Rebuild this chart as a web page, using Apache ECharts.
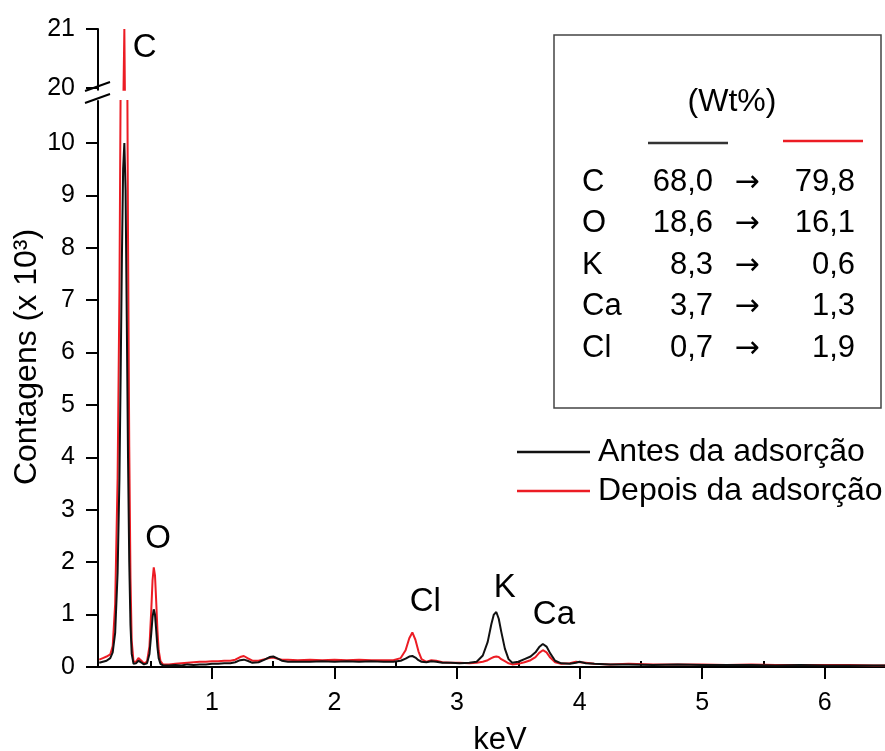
<!DOCTYPE html>
<html><head><meta charset="utf-8">
<script src="https://cdn.jsdelivr.net/npm/echarts@6/dist/echarts.min.js"></script>
<style>html,body{margin:0;padding:0;background:#fff}#c{width:885px;height:751px}</style>
</head><body><div id="c"></div>
<script>
// ---- data ----
const energy = [0.08,0.11,0.14,0.17,0.19,0.21,0.23,0.245,0.255,0.265,0.275,0.285,0.295,0.305,0.315,0.325,0.335,0.345,0.36,0.38,0.40,0.42,0.445,0.47,0.49,0.505,0.515,0.525,0.535,0.545,0.555,0.565,0.58,0.60,0.65,0.70,0.75,0.80,0.85,0.90,0.95,1.00,1.05,1.10,1.15,1.19,1.23,1.26,1.29,1.33,1.38,1.43,1.47,1.50,1.53,1.57,1.62,1.70,1.80,1.90,2.00,2.10,2.20,2.30,2.40,2.48,2.54,2.58,2.61,2.635,2.66,2.685,2.71,2.75,2.79,2.83,2.88,2.95,3.02,3.10,3.16,3.21,3.25,3.28,3.30,3.32,3.34,3.36,3.39,3.42,3.45,3.50,3.55,3.60,3.64,3.67,3.70,3.73,3.76,3.80,3.85,3.92,3.97,4.00,4.05,4.12,4.25,4.40,4.60,4.80,5.00,5.20,5.40,5.60,5.80,6.00,6.20,6.40,6.50];
const antes = [0.08,0.10,0.12,0.17,0.28,0.65,1.8,3.6,5.6,7.8,9.5,10.0,9.1,6.6,4.0,2.0,0.8,0.25,0.06,0.07,0.12,0.09,0.05,0.07,0.25,0.65,0.95,1.10,1.00,0.70,0.38,0.17,0.06,0.03,0.03,0.04,0.03,0.05,0.04,0.05,0.05,0.06,0.06,0.07,0.07,0.09,0.13,0.14,0.12,0.08,0.09,0.14,0.19,0.20,0.17,0.12,0.10,0.10,0.10,0.11,0.10,0.11,0.10,0.11,0.10,0.10,0.12,0.16,0.20,0.21,0.18,0.13,0.10,0.09,0.11,0.10,0.08,0.08,0.07,0.08,0.10,0.22,0.48,0.82,1.00,1.05,0.92,0.68,0.35,0.15,0.08,0.10,0.15,0.20,0.28,0.38,0.44,0.39,0.26,0.12,0.07,0.06,0.08,0.10,0.07,0.06,0.05,0.05,0.04,0.05,0.04,0.04,0.04,0.03,0.04,0.03,0.03,0.03,0.03];
const depois = [0.14,0.17,0.20,0.24,0.40,1.20,3.6,7.2,11.2,15.8,19.5,21.0,18.6,13.4,8.2,4.2,1.7,0.5,0.10,0.10,0.17,0.13,0.07,0.10,0.40,1.10,1.65,1.90,1.75,1.25,0.70,0.32,0.11,0.05,0.05,0.06,0.07,0.08,0.09,0.10,0.10,0.11,0.11,0.12,0.12,0.14,0.19,0.21,0.17,0.12,0.12,0.15,0.17,0.18,0.16,0.14,0.14,0.13,0.14,0.13,0.14,0.13,0.14,0.13,0.13,0.13,0.17,0.32,0.55,0.66,0.52,0.30,0.15,0.10,0.13,0.12,0.09,0.08,0.08,0.07,0.08,0.10,0.13,0.17,0.19,0.20,0.19,0.15,0.11,0.07,0.05,0.06,0.09,0.13,0.19,0.27,0.32,0.28,0.18,0.09,0.06,0.07,0.10,0.09,0.08,0.06,0.05,0.06,0.05,0.05,0.05,0.04,0.05,0.04,0.04,0.04,0.04,0.03,0.03];
const seriesNames = ['Antes da adsorção', 'Depois da adsorção'];
const xTicks = [1, 2, 3, 4, 5, 6];
const xMinorTicks = [0.5, 1.5, 2.5, 3.5, 4.5, 5.5, 6.5];
const yTicksLow = [0, 1, 2, 3, 4, 5, 6, 7, 8, 9, 10];
const yMinorLow = [0.5, 1.5, 2.5, 3.5, 4.5, 5.5, 6.5, 7.5, 8.5, 9.5, 10.5];
const yTicksHigh = [20, 21];
const yMinorHigh = [20.5];
const peakLabelsLow = [['O', 0.56, 2.45], ['Cl', 2.74, 1.25], ['K', 3.39, 1.5], ['Ca', 3.79, 0.99]];
const peakLabelsHigh = [['C', 0.45, 20.68]];
const tableTitle = '(Wt%)';
const tableElements = ['C', 'O', 'K', 'Ca', 'Cl'];
const wtAntes = ['68,0', '18,6', '8,3', '3,7', '0,7'];
const wtDepois = ['79,8', '16,1', '0,6', '1,3', '1,9'];
const yAxisTitle = 'Contagens (x 10³)';
const xAxisTitle = 'keV';

// ---- chart ----
const FONT = '"Liberation Sans", Arial, sans-serif';
const BLACK = '#111111', RED = '#ec1c24';
const pairs = v => energy.map((e, i) => [e, v[i]]);
const XMIN = 0.07, XMAX = 6.5;

const axisLine = {show: true, lineStyle: {color: '#000', width: 2}};
function mainY(grid, min, max, ticks) {
  return {gridIndex: grid, type: 'value', min, max,
    axisLine: axisLine,
    axisTick: {show: true, inside: false, length: 12, lineStyle: {color: '#000', width: 2}, customValues: ticks},
    axisLabel: {show: true, customValues: ticks, margin: 23, fontSize: 25, color: '#000', fontFamily: FONT},
    splitLine: {show: false}};
}
function minorY(grid, min, max, ticks) {
  return {gridIndex: grid, type: 'value', min, max,
    axisLine: {show: false},
    axisTick: {show: true, inside: false, length: 6, lineStyle: {color: '#000', width: 2}, customValues: ticks},
    axisLabel: {show: false}, splitLine: {show: false}};
}

const TF = '31px ' + FONT;
const graphic = [
  {type: 'line', shape: {x1: 85, y1: 91, x2: 110, y2: 82}, style: {stroke: '#000', lineWidth: 2}},
  {type: 'line', shape: {x1: 85, y1: 103, x2: 110, y2: 94}, style: {stroke: '#000', lineWidth: 2}},
  {type: 'text', x: 27, y: 357, rotation: Math.PI / 2,
    style: {text: yAxisTitle, font: '32px ' + FONT, fill: '#000', align: 'center', verticalAlign: 'middle'}},
  {type: 'rect', shape: {x: 554, y: 35, width: 327, height: 373}, style: {fill: 'none', stroke: '#444', lineWidth: 1.5}},
  {type: 'text', x: 732, y: 102, style: {text: tableTitle, font: '32px ' + FONT, fill: '#000', align: 'center', verticalAlign: 'middle'}},
  {type: 'line', shape: {x1: 648, y1: 143, x2: 728, y2: 143}, style: {stroke: '#333', lineWidth: 2.5}},
  {type: 'line', shape: {x1: 783, y1: 141, x2: 863, y2: 141}, style: {stroke: RED, lineWidth: 2.5}}
];
tableElements.forEach((el, i) => {
  const y = 182 + i * 41.5;
  graphic.push({type: 'text', x: 582, y, style: {text: el, font: TF, fill: '#000', align: 'left', verticalAlign: 'middle'}});
  graphic.push({type: 'text', x: 713, y, style: {text: wtAntes[i], font: TF, fill: '#000', align: 'right', verticalAlign: 'middle'}});
  graphic.push({type: 'text', x: 747, y: y + 1, style: {text: '→', font: '30px "DejaVu Sans", sans-serif', fill: '#000', align: 'center', verticalAlign: 'middle'}});
  graphic.push({type: 'text', x: 855, y, style: {text: wtDepois[i], font: TF, fill: '#000', align: 'right', verticalAlign: 'middle'}});
});

const labelSeries = (data, xi, yi) => ({
  type: 'scatter', xAxisIndex: xi, yAxisIndex: yi, symbol: 'circle', symbolSize: 0, silent: true,
  itemStyle: {color: '#000', opacity: 1}, clip: false,
  label: {show: true, position: 'inside', formatter: p => p.data[2], fontSize: 33, color: '#000', opacity: 1, fontFamily: FONT},
  data: data.map(d => [d[1], d[2], d[0]])
});
const lineSeries = (name, vals, color, xi, yi) => ({
  name, type: 'line', xAxisIndex: xi, yAxisIndex: yi, data: pairs(vals),
  symbol: 'none', showSymbol: false, clip: true, color,
  lineStyle: {color, width: 2}
});

const option = {
  animation: false,
  backgroundColor: '#fff',
  textStyle: {fontFamily: FONT},
  grid: [
    {left: 98, right: -1, top: 29, height: 60.8, outerBoundsMode: 'none', containLabel: false},
    {left: 98, right: -1, top: 101, bottom: 84, outerBoundsMode: 'none', containLabel: false}
  ],
  xAxis: [
    {gridIndex: 0, type: 'value', min: XMIN, max: XMAX, show: false},
    {gridIndex: 1, type: 'value', min: XMIN, max: XMAX,
      axisLine: axisLine,
      axisTick: {show: true, inside: false, length: 12, lineStyle: {color: '#000', width: 2}, customValues: xTicks},
      axisLabel: {show: true, customValues: xTicks, margin: 24, fontSize: 25, color: '#000', fontFamily: FONT},
      splitLine: {show: false},
      name: xAxisTitle, nameLocation: 'middle', nameGap: 58,
      nameTextStyle: {fontSize: 31, color: '#000', fontFamily: FONT, padding: [0, 0, 0, 16]}},
    {gridIndex: 1, type: 'value', min: XMIN, max: XMAX,
      axisLine: {show: false},
      axisTick: {show: true, inside: false, length: 6, lineStyle: {color: '#000', width: 2}, customValues: xMinorTicks},
      axisLabel: {show: false}, splitLine: {show: false}}
  ],
  yAxis: [
    mainY(0, 19.97, 21, yTicksHigh),
    minorY(0, 19.97, 21, yMinorHigh),
    mainY(1, 0, 10.8, yTicksLow),
    minorY(1, 0, 10.8, yMinorLow)
  ],
  legend: {
    data: seriesNames, orient: 'vertical', left: 517, top: 436, padding: 0,
    itemWidth: 73, itemHeight: 2.5, itemGap: 7, icon: 'rect',
    textStyle: {fontSize: 32, lineHeight: 32, color: '#000', fontFamily: FONT, padding: [0, 0, 0, 3]}
  },
  series: [
    lineSeries(seriesNames[1], depois, RED, 1, 2),
    lineSeries(seriesNames[0], antes, BLACK, 1, 2),
    lineSeries(seriesNames[1], depois, RED, 0, 0),
    lineSeries(seriesNames[0], antes, BLACK, 0, 0),
    labelSeries(peakLabelsLow, 1, 2),
    labelSeries(peakLabelsHigh, 0, 0)
  ],
  graphic
};
const chart = echarts.init(document.getElementById('c'), null, {renderer: 'canvas'});
chart.setOption(option);
</script>
</body></html>
